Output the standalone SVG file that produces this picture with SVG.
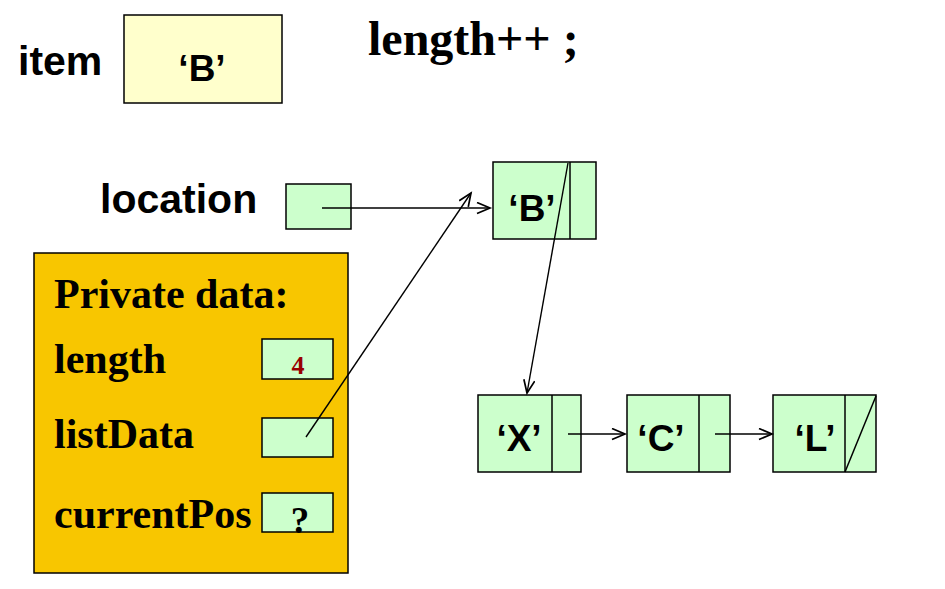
<svg xmlns="http://www.w3.org/2000/svg" width="945" height="589" viewBox="0 0 945 589">
<style>
.box{fill:#CCFFCC;stroke:#000;stroke-width:1.5}
.ybox{fill:#FFFFCC;stroke:#000;stroke-width:1.5}
.div{stroke:#000;stroke-width:1.5;fill:none}
.conn{stroke:#000;stroke-width:1.4;fill:none;marker-end:url(#ah)}
.sans{font-family:"Liberation Sans",Arial,sans-serif;font-weight:bold;fill:#000}
.serif{font-family:"Liberation Serif","Times New Roman",serif;font-weight:bold;fill:#000}
</style>
<defs>
<marker id="ah" markerUnits="userSpaceOnUse" markerWidth="18" markerHeight="14" refX="14" refY="6" orient="auto" viewBox="0 0 18 14">
<path d="M1,0.5 L14,6 L1,11.5" fill="none" stroke="#000" stroke-width="1.7"/>
</marker>
</defs>
<rect width="945" height="589" fill="#fff"/>

<g id="item">
<text class="sans" x="18" y="75" font-size="41">item</text>
<rect class="ybox" x="124" y="15" width="158" height="88"/>
<text class="sans" x="202" y="81" font-size="37" text-anchor="middle">‘B’</text>
</g>

<g id="statement">
<text class="serif" x="368" y="55" font-size="48">length++ ;</text>
</g>

<g id="location">
<text class="sans" x="100" y="213" font-size="41">location</text>
<rect class="box" x="286" y="184" width="65" height="45"/>
</g>

<g id="private">
<rect x="34" y="253" width="314" height="320" fill="#F8C600" stroke="#000" stroke-width="1.5"/>
<text class="serif" x="54" y="308" font-size="42">Private data:</text>
<text class="serif" x="54" y="373" font-size="42">length</text>
<text class="serif" x="54" y="448" font-size="42">listData</text>
<text class="serif" x="54" y="528" font-size="42">currentPos</text>
<rect class="box" x="262" y="339" width="71" height="40"/>
<text class="serif" x="298" y="374" font-size="26" text-anchor="middle" style="fill:#990000">4</text>
<rect class="box" x="262" y="493" width="71" height="39"/>
<text class="serif" x="300" y="533" font-size="37" text-anchor="middle">?</text>
<rect class="box" x="262" y="418" width="71" height="39"/>
</g>

<g id="nodeB">
<rect class="box" x="493" y="162" width="103" height="77"/>
<line class="div" x1="570" y1="162" x2="570" y2="239"/>
<text class="sans" x="532" y="221" font-size="37" text-anchor="middle">‘B’</text>
</g>

<g id="nodeX">
<rect class="box" x="478" y="395" width="103" height="77"/>
<line class="div" x1="552" y1="395" x2="552" y2="472"/>
<text class="sans" x="519" y="451" font-size="37" text-anchor="middle">‘X’</text>
</g>

<g id="nodeC">
<rect class="box" x="627" y="395" width="103" height="77"/>
<line class="div" x1="699" y1="395" x2="699" y2="472"/>
<text class="sans" x="661" y="451" font-size="37" text-anchor="middle">‘C’</text>
</g>

<g id="nodeL">
<rect class="box" x="773" y="395" width="103" height="77"/>
<line class="div" x1="845" y1="395" x2="845" y2="472"/>
<line class="div" x1="845" y1="472" x2="876" y2="396"/>
<text class="sans" x="815" y="451" font-size="37" text-anchor="middle">‘L’</text>
</g>

<g id="connectors">
<line class="conn" x1="322" y1="208" x2="490" y2="208"/>
<line class="conn" x1="306" y1="437" x2="471" y2="193"/>
<line class="conn" x1="568" y1="163" x2="527" y2="393"/>
<line class="conn" x1="568" y1="434" x2="625" y2="434"/>
<line class="conn" x1="715" y1="434" x2="772" y2="434"/>
</g>
</svg>
